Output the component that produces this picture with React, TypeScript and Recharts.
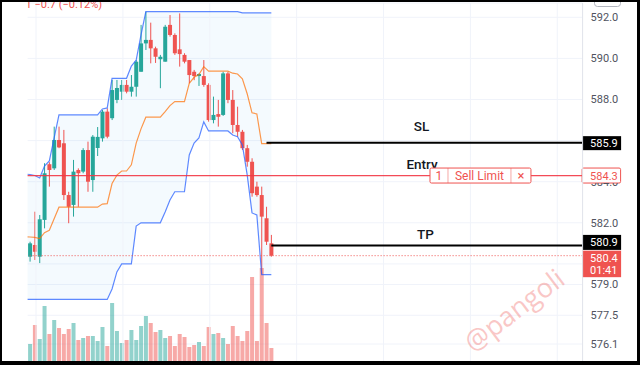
import React from 'react';
import {
  ComposedChart, Bar, Line, Area, XAxis, YAxis, CartesianGrid, ReferenceLine, Cell,
} from 'recharts';

// ---- candle data (index 0..50) ----
const opens = [580.35,580.92,580.35,582.14,584.85,584.65,586.03,585.87,583.35,582.87,584.57,584.49,585.54,584.08,585.64,586.11,587.41,587.09,587.98,588.38,588.71,588.38,588.62,589.35,590.73,590.90,590.49,589.96,589.84,591.63,591.14,590.44,590.17,589.92,589.35,589.14,589.14,588.71,587.00,587.29,587.25,589.27,587.98,586.76,586.43,585.63,584.97,583.76,583.35,582.22,581.00];
const highs = [581.08,582.54,582.38,584.90,584.95,586.68,586.68,586.52,583.51,585.06,584.65,585.63,585.95,586.27,586.66,587.49,587.57,588.95,588.95,588.95,588.95,589.19,589.92,591.63,592.27,591.74,590.57,590.17,591.63,592.11,591.22,592.19,590.25,589.92,589.44,589.27,589.92,588.79,588.14,587.98,589.35,589.35,588.46,587.65,586.52,585.79,585.14,584.00,583.76,582.78,581.41];
const lows = [580.11,580.19,580.04,581.73,583.76,584.57,585.63,583.11,581.98,582.30,582.78,584.41,583.51,583.51,585.25,585.95,586.11,587.00,587.82,587.98,588.30,588.14,588.14,589.35,590.41,589.76,589.78,588.55,589.84,591.06,590.17,589.60,589.76,588.79,588.94,588.66,588.62,586.92,586.84,586.68,587.20,587.82,586.36,586.19,585.54,584.73,583.27,583.27,579.48,580.92,580.35];
const closes = [581.00,580.59,582.17,584.41,584.57,586.03,585.67,583.35,582.78,584.49,584.41,585.54,584.00,586.19,586.18,587.41,586.19,588.46,588.56,588.71,588.38,588.62,589.84,590.73,590.90,590.49,590.08,590.08,591.54,591.14,590.25,590.21,589.84,589.19,589.14,589.24,588.71,587.00,587.25,587.16,589.27,587.98,586.76,586.43,585.63,584.97,583.44,583.35,582.30,581.08,580.40];
const volumes = [18,37,23,56,28,42,34,28,33,39,22,24,26,26,21,35,16,59,31,19,22,32,22,36,46,39,30,32,24,26,16,28,25,15,17,20,16,35,28,29,24,18,36,26,21,31,85,21,94,39,14];

// ---- channel indicator (index -1..50) ----
const upperBand = [584.37,584.35,584.30,584.18,584.76,585.01,586.13,587.25,587.25,587.25,587.25,587.25,587.25,587.25,587.25,587.25,587.54,587.59,589.03,589.03,589.03,589.03,589.63,589.92,591.14,592.28,592.28,592.28,592.28,592.28,592.28,592.28,592.28,592.28,592.28,592.28,592.28,592.28,592.28,592.28,592.28,592.28,592.28,592.28,592.28,592.22,592.22,592.22,592.22,592.22,592.22,592.22];
const lowerBand = [578.27,578.27,578.27,578.27,578.27,578.27,578.27,578.27,578.27,578.27,578.27,578.27,578.27,578.27,578.27,578.27,578.27,578.27,578.78,579.61,580.00,580.00,580.00,581.84,582.00,582.00,582.00,582.00,582.00,582.53,583.11,583.51,583.51,583.51,585.30,585.88,586.13,586.91,586.47,586.47,586.47,586.47,586.47,586.27,586.19,585.79,584.33,582.48,582.38,579.48,579.48,579.48];
const midBand = [581.32,581.31,581.29,581.23,581.52,581.64,582.20,582.76,582.76,582.76,582.76,582.76,582.76,582.76,582.76,582.76,582.91,582.93,583.91,584.32,584.52,584.52,584.82,585.88,586.57,587.14,587.14,587.14,587.14,587.41,587.70,587.90,587.90,587.90,588.79,589.08,589.21,589.60,589.38,589.38,589.38,589.38,589.38,589.28,589.24,589.01,588.28,587.35,587.30,585.85,585.85,585.85];

const priceTicks = [592, 590, 588, 586, 584, 582, 580, 579, 577.5, 576.1];
const hiddenTickLabels = [586, 580];
const partlyHiddenTickLabels = [584];
const gridX = [1.25, 19.25, 37.25, 55.25, 73.25, 91.25, 109.25];

const SL_PRICE = 585.9;
const ENTRY_PRICE = 584.3;
const TP_PRICE = 580.9;
const LAST_PRICE = 580.4;
const TIMER = '01:41';
const HEADER = '1 −0.7 (−0.12%)';

const UP = '#26a69a';
const DOWN = '#ef5350';
const UP_VOL = 'rgba(38,166,154,0.5)';
const DOWN_VOL = 'rgba(239,83,80,0.5)';
const X_DOMAIN: [number, number] = [-0.5, 114.5];

const data = upperBand.map((u, k) => {
  const i = k - 1;
  const has = i >= 0;
  return {
    x: i,
    up: u,
    lo: lowerBand[k],
    mid: midBand[k],
    band: [lowerBand[k], u],
    o: has ? opens[i] : null,
    h: has ? highs[i] : null,
    l: has ? lows[i] : null,
    c: has ? closes[i] : null,
    vol: has ? volumes[i] : null,
  };
});

const Candle = (props: any) => {
  const { x, y, width, height, payload } = props;
  if (!payload || payload.o == null || !isFinite(y) || !isFinite(height)) return null;
  const { o, h, l, c } = payload;
  const k = h - l > 0 ? height / (h - l) : 0;
  const yOf = (v: number) => y + (h - v) * k;
  const top = yOf(Math.max(o, c));
  const bot = yOf(Math.min(o, c));
  const color = c >= o ? UP : DOWN;
  const cx = x + width / 2;
  return (
    <g>
      <line x1={cx} x2={cx} y1={y} y2={y + height} stroke={color} strokeWidth={1} />
      <rect x={x} y={top} width={width} height={Math.max(1, bot - top)} fill={color} />
    </g>
  );
};

const PriceTick = (props: any) => {
  const { x, y, payload } = props;
  const v = payload?.value;
  if (v == null || hiddenTickLabels.includes(v)) return <g />;
  const txt = (
    <text x={x} y={y} dy="0.355em" fontSize={11} fill="#50535e" textAnchor="start">
      {Number(v).toFixed(1)}
    </text>
  );
  if (partlyHiddenTickLabels.includes(v)) {
    const id = `clip-tick-${String(v).replace('.', '_')}`;
    return (
      <g>
        <defs>
          <clipPath id={id}>
            <rect x={x - 2} y={y + 1.4} width={50} height={12} />
          </clipPath>
        </defs>
        <g clipPath={`url(#${id})`}>{txt}</g>
      </g>
    );
  }
  return txt;
};

const vbOf = (props: any) => props.viewBox || { x: 0, y: 0, width: 0, height: 0 };

const slLabel = (props: any) => {
  const vb = vbOf(props);
  const right = vb.x + vb.width;
  const cy = vb.y;
  return (
    <g>
      <text x={vb.x + vb.width / 2 - 3} y={cy - 12} textAnchor="middle" fontSize={13.5} fontWeight={500} fill="#131722">SL</text>
      <rect x={right - 0.5} y={cy - 6.5} width={39} height={14} fill="#000" />
      <text x={right + 7.5} y={cy + 4.5} fontSize={11} fill="#fff">{SL_PRICE.toFixed(1)}</text>
    </g>
  );
};

const tpLabel = (props: any) => {
  const vb = vbOf(props);
  const right = vb.x + vb.width;
  const cy = vb.y;
  return (
    <g>
      <text x={vb.x + vb.width / 2 - 1.5} y={cy - 6} textAnchor="middle" fontSize={13.5} fontWeight={500} fill="#131722">TP</text>
      <rect x={right - 0.5} y={cy - 10.5} width={39} height={15} fill="#000" />
      <text x={right + 7.5} y={cy + 1} fontSize={11} fill="#fff">{TP_PRICE.toFixed(1)}</text>
    </g>
  );
};

const entryAxisLabel = (props: any) => {
  const vb = vbOf(props);
  const right = vb.x + vb.width;
  const cy = vb.y;
  return (
    <g>
      <rect x={right - 0.5} y={cy - 7.5} width={38.5} height={15} rx={1.5} fill="#fff" stroke={DOWN} strokeWidth={1} />
      <text x={right + 7.5} y={cy + 4} fontSize={11} fill={DOWN}>{ENTRY_PRICE.toFixed(1)}</text>
    </g>
  );
};

const sellLimitLabel = (props: any) => {
  const vb = vbOf(props);
  const x0 = vb.x;
  const w = vb.width;
  const cy = vb.y;
  return (
    <g>
      <text x={x0 - 8} y={cy - 7} textAnchor="middle" fontSize={13.5} fontWeight={500} fill="#131722">Entry</text>
      <rect x={x0} y={cy - 7.5} width={w} height={15} rx={1.5} fill="#fff" stroke={DOWN} strokeWidth={1} />
      <line x1={x0 + 18} x2={x0 + 18} y1={cy - 7.5} y2={cy + 7.5} stroke={DOWN} strokeOpacity={0.5} />
      <line x1={x0 + w - 20} x2={x0 + w - 20} y1={cy - 7.5} y2={cy + 7.5} stroke={DOWN} strokeOpacity={0.5} />
      <text x={x0 + 9} y={cy + 4} textAnchor="middle" fontSize={12} fill={DOWN}>1</text>
      <text x={x0 + (18 + w - 20) / 2} y={cy + 4} textAnchor="middle" fontSize={12} fill={DOWN}>Sell Limit</text>
      <text x={x0 + w - 10} y={cy + 4} textAnchor="middle" fontSize={13} fill={DOWN}>×</text>
    </g>
  );
};

const lastPriceLabel = (props: any) => {
  const vb = vbOf(props);
  const right = vb.x + vb.width;
  const cy = vb.y;
  return (
    <g>
      <rect x={right - 0.5} y={cy - 5} width={39} height={26.5} fill={DOWN} />
      <text x={right + 7.5} y={cy + 6.5} fontSize={11} fill="#fff">{LAST_PRICE.toFixed(1)}</text>
      <text x={right + 7.5} y={cy + 18} fontSize={11} fill="#fff">{TIMER}</text>
    </g>
  );
};

export default function App() {
  return (
    <div style={{ position: 'absolute', left: 0, top: 0, width: 640, height: 365, background: '#fff', overflow: 'hidden' }}>
      <ComposedChart
        width={640}
        height={365}
        data={data}
        margin={{ top: 3, right: 0, bottom: 3, left: 27.6 }}
        style={{ fontFamily: 'Roboto, "Liberation Sans", sans-serif' }}
      >
        <XAxis dataKey="x" type="number" domain={X_DOMAIN} allowDataOverflow hide />
        <XAxis xAxisId="xv" dataKey="x" type="number" domain={X_DOMAIN} allowDataOverflow hide />
        <YAxis
          yAxisId="p"
          orientation="right"
          domain={[575.226, 592.696]}
          allowDataOverflow
          ticks={priceTicks}
          interval={0}
          width={57.4}
          tickLine={false}
          axisLine={{ stroke: '#e0e3eb' }}
          tick={PriceTick}
        />
        <YAxis yAxisId="v" hide domain={[0, 359]} />
        <CartesianGrid yAxisId="p" vertical={false} stroke="#f0f3fa" />
        {gridX.map((g) => (
          <ReferenceLine key={g} x={g} yAxisId="p" stroke="#f0f3fa" />
        ))}
        <Bar xAxisId="xv" yAxisId="v" dataKey="vol" barCategoryGap={0.4} isAnimationActive={false}>
          {data.map((d, k) => (
            <Cell key={k} fill={d.c != null && d.o != null && d.c >= d.o ? UP_VOL : DOWN_VOL} />
          ))}
        </Bar>
        <Area yAxisId="p" dataKey="band" type="linear" stroke="none" fill="#2196f3" fillOpacity={0.05} isAnimationActive={false} />
        <Line yAxisId="p" dataKey="up" type="linear" stroke="#2962ff" strokeOpacity={0.75} strokeWidth={1.2} dot={false} isAnimationActive={false} />
        <Line yAxisId="p" dataKey="lo" type="linear" stroke="#2962ff" strokeOpacity={0.75} strokeWidth={1.2} dot={false} isAnimationActive={false} />
        <Line yAxisId="p" dataKey="mid" type="linear" stroke="#ff6d00" strokeOpacity={0.7} strokeWidth={1.2} dot={false} isAnimationActive={false} />
        <Bar
          yAxisId="p"
          dataKey={(d: any) => (d.o == null ? null : [d.l, d.h])}
          barCategoryGap={0.9}
          shape={Candle}
          isAnimationActive={false}
        />
        <ReferenceLine yAxisId="p" y={LAST_PRICE} stroke={DOWN} strokeDasharray="1 2" label={lastPriceLabel} />
        <ReferenceLine yAxisId="p" y={ENTRY_PRICE} stroke="#f23645" strokeOpacity={0.9} strokeWidth={1.2} label={entryAxisLabel} />
        <ReferenceLine
          yAxisId="p"
          segment={[{ x: 49, y: SL_PRICE }, { x: 114.5, y: SL_PRICE }]}
          stroke="#000"
          strokeWidth={2}
          label={slLabel}
        />
        <ReferenceLine
          yAxisId="p"
          segment={[{ x: 50, y: TP_PRICE }, { x: 114.5, y: TP_PRICE }]}
          stroke="#000"
          strokeWidth={2}
          label={tpLabel}
        />
        <ReferenceLine
          yAxisId="p"
          segment={[{ x: 82.88, y: ENTRY_PRICE }, { x: 103.8, y: ENTRY_PRICE }]}
          stroke="none"
          label={sellLimitLabel}
        />
      </ComposedChart>
      <svg width={640} height={365} style={{ position: 'absolute', left: 0, top: 0, pointerEvents: 'none' }}>
        <text x={25.5} y={7.5} fontSize={11} fill={DOWN} style={{ fontFamily: 'Roboto, sans-serif' }}>{HEADER}</text>
        <rect x={594.5} y={-10} width={26} height={16.5} rx={3} fill="#fff" stroke="#b2b5be" />
        <text
          x={520}
          y={318}
          textAnchor="middle"
          fontSize={27}
          fill={DOWN}
          opacity={0.32}
          transform="rotate(-37 520 318)"
          style={{ fontFamily: '"Open Sans", sans-serif' }}
        >
          @pangoli
        </text>
      </svg>
      <div
        style={{
          position: 'absolute', left: 0, top: 0, width: 640, height: 365, boxSizing: 'border-box',
          borderStyle: 'solid', borderColor: '#000', borderWidth: '2px 3px 4px 2px', pointerEvents: 'none',
        }}
      />
    </div>
  );
}
